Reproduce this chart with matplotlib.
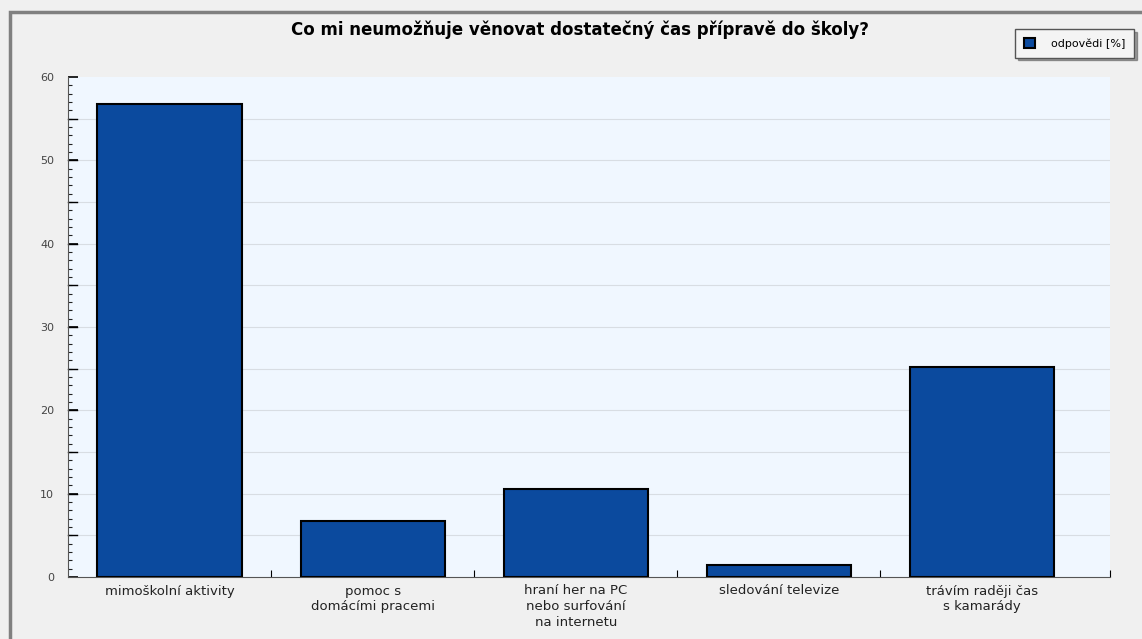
import matplotlib.pyplot as plt
import matplotlib.patches as mpatches
import numpy as np

categories = ['mimoškolní aktivity', 'pomoc s\ndomácími pracemi',
              'hraní her na PC\nnebo surfování\nna internetu',
              'sledování televize', 'trávím raději čas\ns kamarády']
values = [56.7, 6.7, 10.6, 1.4, 25.2]
series_name = 'odpovědi [%]'

fig = plt.figure(figsize=(11.42, 6.39), dpi=100)
fig.patch.set_facecolor('#f0f0f0')

# grey frame around the whole chart (only left/top visible)
fig.patches.append(mpatches.Rectangle((10 / 1142, -0.1), 1.2, (639 - 12) / 639 + 0.1,
                                      transform=fig.transFigure, fill=False,
                                      edgecolor='#808080', linewidth=2.5))

ax = fig.add_axes([68 / 1142, 62 / 639, 1042 / 1142, 500 / 639])
ax.set_facecolor('#f0f7ff')

x = np.arange(len(categories))
ax.bar(x, values, width=0.71, color='#0b4a9e', edgecolor='black', linewidth=1.5,
       label=series_name, zorder=3)

ax.set_xlim(-0.5, 4.63)
ax.set_ylim(0, 60)
ax.set_yticks(np.arange(0, 61, 10))
ax.set_yticks(np.arange(0, 61, 1), minor=True)
ax.tick_params(axis='y', which='major', length=7, width=1.2, labelsize=8,
               labelcolor='#444444', direction='in', pad=10)
ax.tick_params(axis='y', which='minor', length=3, width=0.8, color='#222222', direction='in')
for yy in np.arange(5, 60, 5):
    ax.axhline(yy, color='#d8dde3', linewidth=0.8, zorder=1)
    ax.plot([-0.5, -0.455], [yy, yy], color='black', linewidth=1.0, zorder=2, clip_on=False)

ax.set_xticks([0.5, 1.5, 2.5, 3.5, 4.63])
ax.set_xticklabels([])
ax.tick_params(axis='x', length=5, direction='in')
for xi, lab in zip(x, categories):
    ax.text(xi, -0.9, lab, ha='center', va='top', fontsize=9.5, color='#222222',
            linespacing=1.25)

for s in ['top', 'right']:
    ax.spines[s].set_visible(False)
ax.spines['left'].set_color('#555555')
ax.spines['bottom'].set_color('#555555')

fig.text(0.508, 0.953, 'Co mi neumožňuje věnovat dostatečný čas přípravě do školy?',
         ha='center', va='center', fontsize=12, fontweight='bold')

leg = fig.legend(loc='upper right', bbox_to_anchor=(1134 / 1142, 1 - 29 / 639),
                 fontsize=8, frameon=True, fancybox=False, shadow=True,
                 handlelength=1.0, handleheight=1.0, borderpad=0.8,
                 handletextpad=1.4, borderaxespad=0)
leg.get_frame().set_edgecolor('#555555')
leg.get_frame().set_facecolor('#f4f4f4')

fig.savefig('out.png', dpi=100, facecolor=fig.get_facecolor())
